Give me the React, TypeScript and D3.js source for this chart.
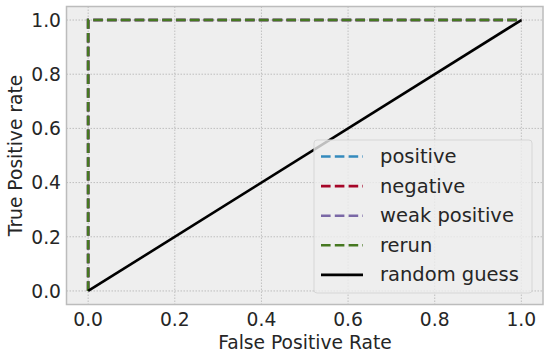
import React, { useRef, useEffect } from 'react';
import * as d3 from 'd3';

const W = 550;
const H = 357;

// ROC curves: each series is a list of [fpr, tpr] points
const seriesNames = ['positive', 'negative', 'weak positive', 'rerun'];
const seriesColors = ['#348ABD', '#A60628', '#7A68A6', '#467821'];
const rocFpr = [0, 0, 1];
const rocTpr = [0, 1, 1];
const guessFpr = [0, 1];
const guessTpr = [0, 1];
const xTicks = [0, 0.2, 0.4, 0.6, 0.8, 1.0];
const yTicks = [0, 0.2, 0.4, 0.6, 0.8, 1.0];

const FONT = 'DejaVu Sans, sans-serif';
const TXT = '#262626';

export default function App() {
  const svgRef = useRef<SVGSVGElement>(null);

  useEffect(() => {
    if (!svgRef.current) return;
    const svg = d3.select(svgRef.current);
    svg.selectAll('*').remove();

    const left = 66.5;
    const right = 543;
    const top = 6.5;
    const bottom = 304.5;

    const x = d3.scaleLinear().domain([-0.05, 1.05]).range([left, right]);
    const y = d3.scaleLinear().domain([-0.05, 1.05]).range([bottom, top]);

    // plot background
    svg.append('rect')
      .attr('x', left).attr('y', top)
      .attr('width', right - left).attr('height', bottom - top)
      .attr('fill', '#eeeeee');

    // grid
    const grid = svg.append('g');
    xTicks.forEach((t) => {
      grid.append('line')
        .attr('x1', x(t)).attr('x2', x(t)).attr('y1', top).attr('y2', bottom)
        .attr('stroke', '#b2b2b2').attr('stroke-width', 0.8).attr('stroke-dasharray', '1.5,1.5');
    });
    yTicks.forEach((t) => {
      grid.append('line')
        .attr('x1', left).attr('x2', right).attr('y1', y(t)).attr('y2', y(t))
        .attr('stroke', '#b2b2b2').attr('stroke-width', 0.8).attr('stroke-dasharray', '1.5,1.5');
    });

    const line = d3.line<[number, number]>().x((d) => x(d[0])).y((d) => y(d[1]));

    // ROC curves (identical), last drawn on top
    const roc: [number, number][] = rocFpr.map((v, i) => [v, rocTpr[i]]);
    seriesNames.forEach((_, i) => {
      svg.append('path')
        .attr('d', line(roc) ?? '')
        .attr('fill', 'none')
        .attr('stroke', seriesColors[i])
        .attr('stroke-width', 2.6)
        .attr('stroke-dasharray', '9.6,4.2');
    });

    // random guess
    const guess: [number, number][] = guessFpr.map((v, i) => [v, guessTpr[i]]);
    svg.append('path')
      .attr('d', line(guess) ?? '')
      .attr('fill', 'none')
      .attr('stroke', '#000000')
      .attr('stroke-width', 2.6);

    // spines
    svg.append('rect')
      .attr('x', left).attr('y', top)
      .attr('width', right - left).attr('height', bottom - top)
      .attr('fill', 'none').attr('stroke', '#bcbcbc').attr('stroke-width', 1.5);

    // tick labels
    xTicks.forEach((t) => {
      svg.append('text')
        .attr('x', x(t)).attr('y', 326)
        .attr('text-anchor', 'middle')
        .attr('font-family', FONT).attr('font-size', 18.7).attr('fill', TXT)
        .text(t.toFixed(1));
    });
    yTicks.forEach((t) => {
      svg.append('text')
        .attr('x', 61).attr('y', y(t) + 6.8)
        .attr('text-anchor', 'end')
        .attr('font-family', FONT).attr('font-size', 18.7).attr('fill', TXT)
        .text(t.toFixed(1));
    });

    // axis labels
    svg.append('text')
      .attr('x', 305).attr('y', 349)
      .attr('text-anchor', 'middle')
      .attr('font-family', FONT).attr('font-size', 18.7).attr('fill', TXT)
      .text('False Positive Rate');
    svg.append('text')
      .attr('transform', `translate(22, ${(top + bottom) / 2}) rotate(-90)`)
      .attr('text-anchor', 'middle')
      .attr('font-family', FONT).attr('font-size', 18.7).attr('fill', TXT)
      .text('True Positive rate');

    // legend
    const lg = svg.append('g');
    const lx = 314;
    const ly = 140;
    const lw = 218;
    const lh = 153;
    lg.append('rect')
      .attr('x', lx).attr('y', ly).attr('width', lw).attr('height', lh).attr('rx', 3)
      .attr('fill', '#eeeeee').attr('fill-opacity', 0.8)
      .attr('stroke', '#d6d6d6').attr('stroke-width', 1);
    const entries = [
      ...seriesNames.map((n, i) => ({ name: n, color: seriesColors[i], dashed: true })),
      { name: 'random guess', color: '#000000', dashed: false },
    ];
    entries.forEach((e, i) => {
      const cy = 156.5 + i * 29.6;
      lg.append('line')
        .attr('x1', 321).attr('x2', 363).attr('y1', cy).attr('y2', cy)
        .attr('stroke', e.color).attr('stroke-width', 2.6)
        .attr('stroke-dasharray', e.dashed ? '9.6,4.2' : null);
      lg.append('text')
        .attr('x', 380).attr('y', cy + 6.5)
        .attr('font-family', FONT).attr('font-size', 19.5).attr('fill', TXT)
        .text(e.name);
    });
  }, []);

  return (
    <svg ref={svgRef} width={W} height={H} style={{ position: 'absolute', left: 0, top: 0, background: '#ffffff' }} />
  );
}
